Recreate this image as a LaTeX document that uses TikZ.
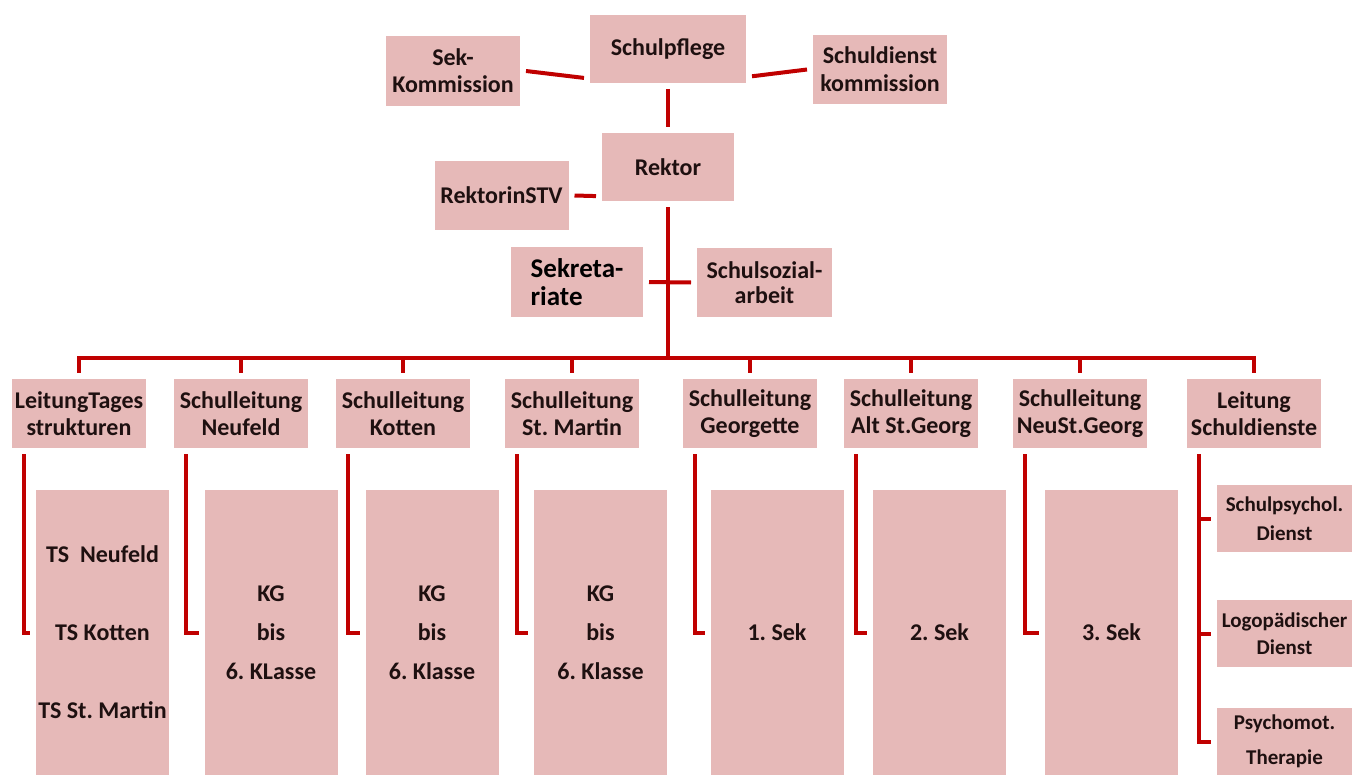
\documentclass[tikz,border=0pt]{standalone}
\usepackage{fontspec}
\setmainfont{Carlito}
\usepackage{xcolor}
\usepackage{tikz}
\definecolor{boxpink}{RGB}{230,185,184}
\definecolor{linered}{RGB}{192,0,0}
\definecolor{textdark}{RGB}{30,16,16}
\frenchspacing

\begin{document}
\begin{tikzpicture}[x=0.5pt, y=-0.5pt,
        orgbox/.style={fill=boxpink, text=textdark, inner sep=0pt, outer sep=3pt, align=center, font=\bfseries\fontsize{12}{13.5}\selectfont},
        topbox/.style={orgbox, minimum width=67pt, minimum height=34.5pt},
        headbox/.style={orgbox, minimum width=67pt, minimum height=34.5pt},
        unitbox/.style={orgbox, minimum width=66.5pt, minimum height=142.5pt, font=\bfseries\fontsize{12}{19.5}\selectfont},
        dienstbox/.style={orgbox, minimum width=67.5pt, minimum height=33.5pt, font=\bfseries\fontsize{10.5}{14}\selectfont},
        link/.style={draw=linered, line width=2pt}]
        \useasboundingbox (0,0) rectangle (1352,775);

        \node [topbox, minimum width=78pt, minimum height=34pt] (pflege) at (668,49) {Schulpflege};
        \node [topbox, minimum height=35pt] (sekkom) at (453,71) {Sek-\\Kommission};
        \node [topbox, font=\bfseries\fontsize{12}{14}\selectfont] (dienstkom) at (880,69.5) {Schuldienst\\kommission};
        \node [topbox, minimum width=66pt, minimum height=34pt] (rektor) at (668,167) {Rektor};
        \node [topbox] (stv) at (501.5,195.5) {RektorinSTV};
        \node [topbox, minimum width=66pt, minimum height=35pt, align=left, text=black, font=\bfseries\fontsize{13.5}{14}\selectfont] (sekr) at (577,282) {Sekreta-\\riate};
        \node [topbox, minimum width=67.5pt, font=\bfseries\fontsize{12}{12.5}\selectfont] (sozial) at (764.5,282.5) {Schulsozial-\\arbeit};
        \coordinate (bus) at (668,358);

        \node [headbox] (tages) at (79,413.5) {LeitungTages\\strukturen};
        \node [headbox] (neufeld) at (241,413.5) {Schulleitung\\Neufeld};
        \node [headbox] (kotten) at (403,413.5) {Schulleitung\\Kotten};
        \node [headbox] (martin) at (572,413.5) {Schulleitung\\St. Martin};
        \node [headbox] (georgette) at (750,413.5) {Schulleitung\\Georgette};
        \node [headbox] (altgeorg) at (911,413.5) {Schulleitung\\Alt St.Georg};
        \node [headbox] (neugeorg) at (1080,413.5) {Schulleitung\\NeuSt.Georg};
        \node [headbox] (dienste) at (1254,413.5) {Leitung\\Schuldienste};

        \node [unitbox, font=\bfseries\fontsize{12}{39}\selectfont] (tsbox) at (102.5,632.5) {TS\ \ Neufeld\\TS Kotten\\TS St. Martin};
        \node [unitbox] (kgneufeld) at (271,632.5) {KG\\bis\\6. KLasse};
        \node [unitbox] (kgkotten) at (432,632.5) {KG\\bis\\6. Klasse};
        \node [unitbox] (kgmartin) at (600.5,632.5) {KG\\bis\\6. Klasse};
        \node [unitbox] (sekeins) at (777,632.5) {1. Sek};
        \node [unitbox] (sekzwei) at (939.5,632.5) {2. Sek};
        \node [unitbox] (sekdrei) at (1111.5,632.5) {3. Sek};

        \node [dienstbox, font=\bfseries\fontsize{10.5}{14.5}\selectfont] (psychol) at (1284.5,518.5) {Schulpsychol.\\Dienst};
        \node [dienstbox, font=\bfseries\fontsize{10.5}{13.5}\selectfont] (logo) at (1284.5,633.5) {Logopädischer\\Dienst};
        \node [dienstbox, font=\bfseries\fontsize{10.5}{17.5}\selectfont] (psychomot) at (1284.5,741.5) {Psychomot.\\Therapie};

        \draw [link] (sekkom.east) -- (pflege.199);
        \draw [link] (pflege.-18) -- (dienstkom.west);
        \draw [link] (pflege.south) -- (rektor.north);
        \draw [link] (stv.east) -- (rektor.202);
        \draw [link] (rektor.south) -- (bus);
        \draw [link] (sekr.east) -- (sozial.west);
        \foreach \h in {tages,neufeld,kotten,martin,georgette,altgeorg,neugeorg,dienste}
            \draw [link] (bus) -| (\h.north);
        \foreach \h/\u in {tages/tsbox,neufeld/kgneufeld,kotten/kgkotten,martin/kgmartin,georgette/sekeins,altgeorg/sekzwei,neugeorg/sekdrei}
            \draw [link] ([xshift=9pt]\h.south west) |- (\u.west);
        \coordinate (dienstlinie) at ([xshift=9pt]dienste.south west);
        \draw [link] (dienstlinie) |- (psychomot.west);
        \draw [link] (dienstlinie |- psychol.west) -- (psychol.west);
        \draw [link] (dienstlinie |- logo.west) -- (logo.west);
    \end{tikzpicture}
\end{document}
